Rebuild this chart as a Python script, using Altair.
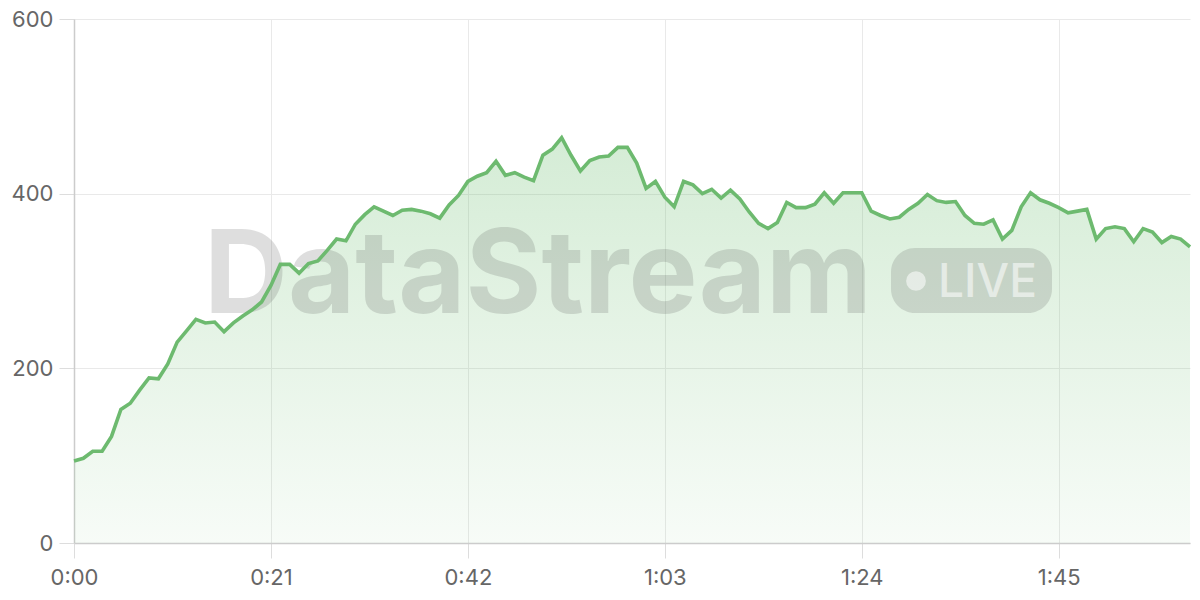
import altair as alt
import pandas as pd

seconds = list(range(120))
values = [
    94, 97, 105, 105, 122, 153, 160, 175, 189, 188,
    205, 230, 243, 256, 252, 253, 242, 252, 260, 267,
    276, 295, 319, 319, 309, 320, 323, 335, 348, 346,
    365, 376, 385, 380, 375, 381, 382, 380, 377, 372,
    387, 398, 414, 420, 424, 437, 421, 424, 419, 415,
    444, 451, 464, 444, 426, 438, 442, 443, 453, 453,
    435, 406, 414, 396, 385, 414, 410, 400, 405, 395,
    404, 394, 379, 366, 360, 367, 390, 384, 384, 388,
    401, 389, 401, 401, 401, 380, 375, 371, 373, 382,
    389, 399, 392, 390, 391, 375, 366, 365, 370, 348,
    358, 385, 401, 393, 389, 384, 378, 380, 382, 348,
    360, 362, 360, 345, 360, 356, 344, 351, 348, 339,
]
x_ticks = [0, 21, 42, 63, 84, 105]
y_ticks = [0, 200, 400, 600]
brand = "DataStream"
badge = "LIVE"

df = pd.DataFrame({"t": seconds, "v": values})
one = pd.DataFrame({"k": [0]})

FONT = "Inter"

x_enc = alt.X(
    "t:Q",
    scale=alt.Scale(domain=[0, 119], nice=False, zero=False),
    axis=alt.Axis(
        values=x_ticks,
        title=None,
        labelExpr="floor(datum.value/60) + ':' + (datum.value % 60 < 10 ? '0' : '') + (datum.value % 60)",
        grid=True,
        gridColor="#e9e9e9",
        tickSize=15,
        tickColor="#dddddd",
        domainColor="#cccccc",
        domainWidth=1.5,
        labelFontSize=22,
        labelColor="#666666",
        labelFont=FONT,
        labelPadding=9,
        labelFlush=False,
    ),
)
y_enc = alt.Y(
    "v:Q",
    scale=alt.Scale(domain=[0, 600], nice=False),
    axis=alt.Axis(
        values=y_ticks,
        title=None,
        grid=True,
        gridColor="#e9e9e9",
        tickSize=15,
        tickColor="#dddddd",
        domainColor="#cccccc",
        domainWidth=1.5,
        labelFontSize=22,
        labelColor="#666666",
        labelFont=FONT,
        labelPadding=6,
    ),
)

area = alt.Chart(df).mark_area(
    color=alt.Gradient(
        gradient="linear",
        stops=[
            alt.GradientStop(color="rgba(102,187,106,0.28)", offset=0),
            alt.GradientStop(color="rgba(102,187,106,0.05)", offset=1),
        ],
        x1=1, x2=1, y1=0, y2=1,
    ),
    interpolate="linear",
).encode(x=x_enc, y=y_enc)

line = alt.Chart(df).mark_line(color="#6dba6f", strokeWidth=3.6).encode(
    x=alt.X("t:Q"), y=alt.Y("v:Q")
)

wm_text = alt.Chart(one).mark_text(
    text=brand, font=FONT, fontSize=116, fontWeight="bold",
    align="center", baseline="alphabetic", color="#555555", opacity=0.19,
).encode(x=alt.value(464), y=alt.value(294))

wm_rect = alt.Chart(one).mark_rect(
    color="#555555", opacity=0.19, cornerRadius=24,
).encode(x=alt.value(817), x2=alt.value(978), y=alt.value(229), y2=alt.value(294))

wm_dot = alt.Chart(one).mark_circle(
    color="#ffffff", opacity=0.55, size=390,
).encode(x=alt.value(842), y=alt.value(262))

wm_live = alt.Chart(one).mark_text(
    text=badge, font=FONT, fontSize=46, fontWeight=500,
    align="left", baseline="alphabetic", color="#ffffff", opacity=0.55,
).encode(x=alt.value(864), y=alt.value(278))

chart = alt.layer(area, wm_text, wm_rect, wm_dot, wm_live, line).properties(
    width=1116,
    height=524,
    autosize="none",
    padding={"left": 66, "top": 11, "right": 2, "bottom": 49},
).configure_view(stroke=None)

chart.save("out.html", embed_options={"renderer": "svg", "actions": False})
